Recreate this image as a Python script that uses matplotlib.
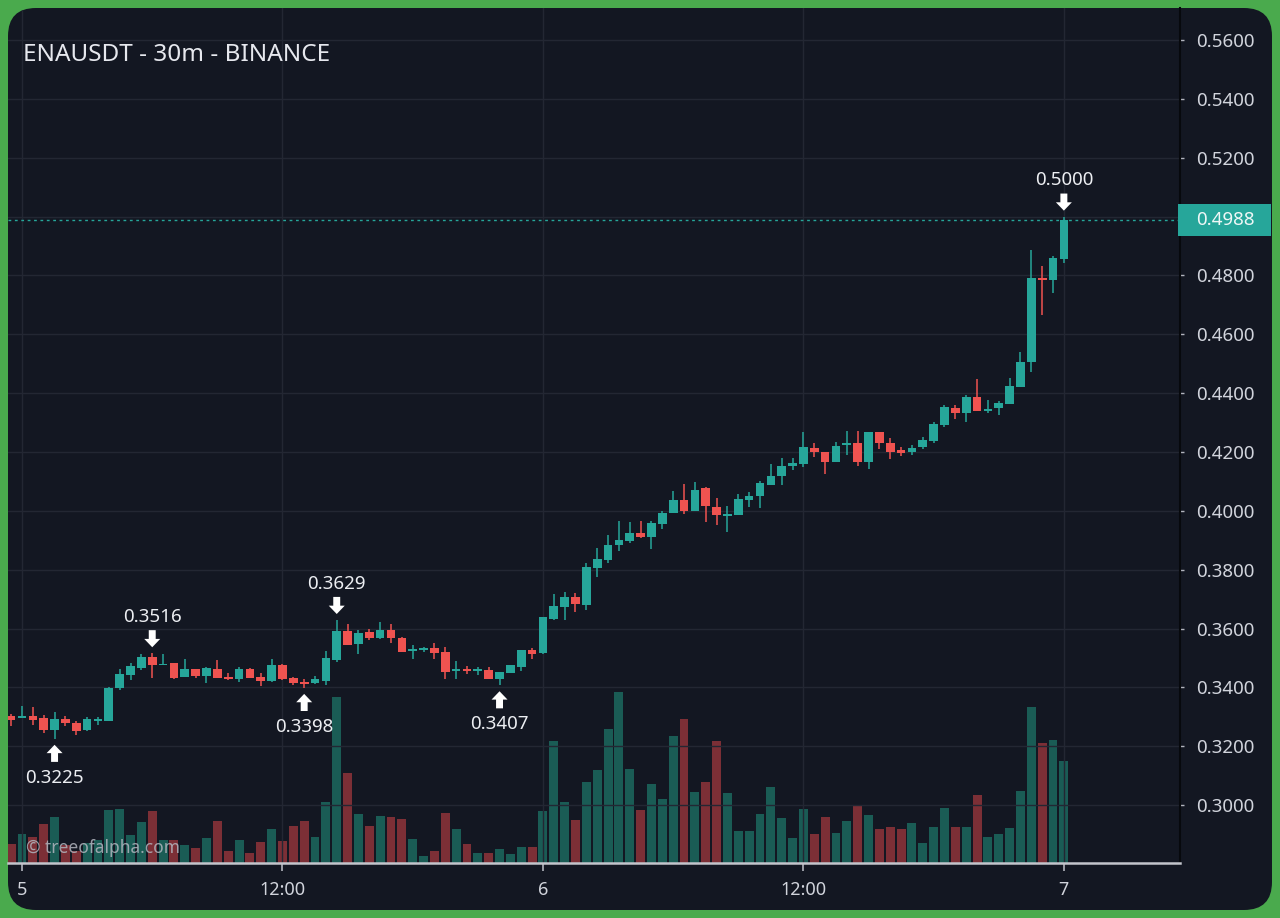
import numpy as np
import matplotlib
matplotlib.use('Agg')
import matplotlib.pyplot as plt
from matplotlib.patches import FancyBboxPatch, Rectangle
from matplotlib.transforms import IdentityTransform, offset_copy, blended_transform_factory
from matplotlib.ticker import FuncFormatter

plt.rcParams['font.family'] = ['Noto Sans', 'DejaVu Sans']

# 30m candles, index 0 = day 5 00:00 (first candle is 4th 23:30)
opens = [0.3303, 0.3296, 0.3303, 0.3296, 0.3255, 0.3292, 0.3279, 0.3255, 0.3286, 0.3286,
         0.3398, 0.3442, 0.3466, 0.3503, 0.3476, 0.3483, 0.3435, 0.3462, 0.3439, 0.3462,
         0.3435, 0.3428, 0.3462, 0.3435, 0.3422, 0.3476, 0.3432, 0.3418, 0.3415, 0.3422,
         0.3493, 0.3592, 0.3547, 0.3588, 0.3568, 0.3595, 0.3568, 0.3524, 0.3527, 0.3534,
         0.3520, 0.3456, 0.3459, 0.3456, 0.3459, 0.3428, 0.3449, 0.3469, 0.3527, 0.3517,
         0.3632, 0.3673, 0.3707, 0.3680, 0.3806, 0.3833, 0.3884, 0.3898, 0.3925, 0.3911,
         0.3955, 0.3993, 0.4037, 0.4000, 0.4078, 0.4013, 0.3983, 0.3986, 0.4037, 0.4051,
         0.4088, 0.4119, 0.4153, 0.4159, 0.4214, 0.4200, 0.4166, 0.4224, 0.4231, 0.4166,
         0.4268, 0.4231, 0.4207, 0.4200, 0.4217, 0.4238, 0.4292, 0.4350, 0.4333, 0.4387,
         0.4340, 0.4350, 0.4363, 0.4421, 0.4506, 0.4792, 0.4785, 0.4856]
highs = [0.3309, 0.3337, 0.3333, 0.3306, 0.3316, 0.3303, 0.3286, 0.3299, 0.3299, 0.3401,
         0.3462, 0.3483, 0.3513, 0.3516, 0.3512, 0.3483, 0.3496, 0.3462, 0.3469, 0.3493,
         0.3449, 0.3469, 0.3466, 0.3449, 0.3496, 0.3479, 0.3435, 0.3428, 0.3439, 0.3524,
         0.3629, 0.3615, 0.3595, 0.3598, 0.3622, 0.3615, 0.3571, 0.3544, 0.3537, 0.3551,
         0.3537, 0.3490, 0.3473, 0.3469, 0.3469, 0.3452, 0.3476, 0.3527, 0.3534, 0.3639,
         0.3717, 0.3724, 0.3721, 0.3823, 0.3874, 0.3918, 0.3966, 0.3962, 0.3966, 0.3966,
         0.4000, 0.4068, 0.4091, 0.4098, 0.4081, 0.4044, 0.4017, 0.4057, 0.4064, 0.4102,
         0.4159, 0.4180, 0.4180, 0.4268, 0.4231, 0.4200, 0.4234, 0.4272, 0.4272, 0.4268,
         0.4268, 0.4248, 0.4217, 0.4224, 0.4251, 0.4302, 0.4360, 0.4360, 0.4394, 0.4448,
         0.4377, 0.4374, 0.4452, 0.4540, 0.4887, 0.4833, 0.4867, 0.5000]
lows = [0.3269, 0.3296, 0.3272, 0.3245, 0.3225, 0.3269, 0.3238, 0.3252, 0.3272, 0.3286,
        0.3391, 0.3425, 0.3459, 0.3432, 0.3476, 0.3428, 0.3435, 0.3432, 0.3415, 0.3432,
        0.3425, 0.3418, 0.3432, 0.3405, 0.3418, 0.3425, 0.3408, 0.3398, 0.3411, 0.3408,
        0.3486, 0.3544, 0.3513, 0.3561, 0.3564, 0.3551, 0.3520, 0.3496, 0.3520, 0.3496,
        0.3428, 0.3428, 0.3445, 0.3442, 0.3428, 0.3407, 0.3449, 0.3456, 0.3496, 0.3513,
        0.3629, 0.3629, 0.3656, 0.3663, 0.3775, 0.3823, 0.3864, 0.3891, 0.3908, 0.3870,
        0.3938, 0.3993, 0.3989, 0.4000, 0.3962, 0.3952, 0.3928, 0.3986, 0.4013, 0.4010,
        0.4088, 0.4088, 0.4139, 0.4149, 0.4183, 0.4125, 0.4166, 0.4190, 0.4153, 0.4142,
        0.4210, 0.4176, 0.4187, 0.4190, 0.4210, 0.4231, 0.4285, 0.4312, 0.4302, 0.4340,
        0.4333, 0.4326, 0.4363, 0.4421, 0.4472, 0.4666, 0.4741, 0.4843]
closes = [0.3289, 0.3299, 0.3289, 0.3255, 0.3292, 0.3279, 0.3252, 0.3292, 0.3292, 0.3398,
          0.3445, 0.3473, 0.3503, 0.3476, 0.3479, 0.3432, 0.3462, 0.3439, 0.3466, 0.3432,
          0.3428, 0.3462, 0.3432, 0.3422, 0.3476, 0.3428, 0.3415, 0.3411, 0.3428, 0.3500,
          0.3592, 0.3544, 0.3585, 0.3568, 0.3595, 0.3568, 0.3520, 0.3530, 0.3534, 0.3517,
          0.3452, 0.3459, 0.3456, 0.3462, 0.3428, 0.3452, 0.3476, 0.3527, 0.3513, 0.3639,
          0.3677, 0.3707, 0.3683, 0.3809, 0.3836, 0.3884, 0.3901, 0.3925, 0.3911, 0.3959,
          0.3993, 0.4037, 0.4000, 0.4071, 0.4017, 0.3986, 0.3989, 0.4040, 0.4051, 0.4095,
          0.4119, 0.4153, 0.4163, 0.4217, 0.4200, 0.4166, 0.4221, 0.4231, 0.4166, 0.4268,
          0.4231, 0.4200, 0.4197, 0.4214, 0.4241, 0.4295, 0.4353, 0.4333, 0.4387, 0.4340,
          0.4346, 0.4367, 0.4425, 0.4506, 0.4792, 0.4785, 0.4860, 0.4988]
# volume, in units of 10k ENA
volume = [19, 29, 26, 39, 46, 18, 12, 20, 23, 53,
          54, 28, 41, 52, 23, 23, 18, 15, 25, 42,
          12, 23, 10, 21, 34, 22, 37, 42, 26, 61,
          166, 90, 49, 37, 47, 46, 44, 24, 7, 12,
          50, 34, 19, 10, 10, 14, 9, 16, 16, 52,
          122, 61, 43, 81, 93, 134, 171, 94, 53, 79,
          64, 127, 144, 71, 81, 122, 70, 32, 32, 49,
          76, 45, 25, 54, 29, 46, 30, 42, 57, 48,
          34, 36, 34, 40, 20, 36, 55, 36, 36, 68,
          26, 29, 35, 72, 156, 120, 123, 102]

tick_pos = [0, 24, 48, 72, 96]
tick_labels = ['5', '12:00', '6', '12:00', '7']
price_ticks = [0.30, 0.32, 0.34, 0.36, 0.38, 0.40, 0.42, 0.44, 0.46, 0.48, 0.50, 0.52, 0.54, 0.56]

# marked extremes: candle index and whether it is a high or low
mark_idx = [3, 12, 26, 29, 44, 96]
mark_kind = ['low', 'high', 'low', 'high', 'low', 'high']

BG = '#131722'
UP = '#26a69a'
DOWN = '#ef5350'
UP_VOL = '#1a5c55'
DOWN_VOL = '#7c2f36'
TEXT = '#d1d4dc'
GRID = '#232733'

W, H = 1280, 918
fig = plt.figure(figsize=(W / 100, H / 100), dpi=100)
fig.patch.set_facecolor('#4aaa4d')

panel = FancyBboxPatch((8, 8), W - 16, H - 16, boxstyle='round,pad=0,rounding_size=28',
                       transform=IdentityTransform(), facecolor=BG, edgecolor='none', zorder=-10)
fig.add_artist(panel)

rect = [8 / W, 55 / H, 1172 / W, 855 / H]
ax2 = fig.add_axes(rect)
ax = fig.add_axes(rect, sharex=ax2)
ax.set_zorder(2)
ax2.set_zorder(1)
ax.patch.set_visible(False)
ax2.patch.set_visible(False)

x = np.arange(-1, len(opens) - 1)
o = np.array(opens)
c = np.array(closes)
up = c >= o
cols = np.where(up, UP, DOWN)

# volume
ax2.bar(x, volume, width=0.82, color=np.where(up, UP_VOL, DOWN_VOL), linewidth=0)
ax2.set_ylim(0, max(volume) * 5.0)
ax2.axis('off')

# candles
ax.vlines(x, lows, highs, colors=cols, linewidth=1.1, zorder=3)
body = np.maximum(np.abs(c - o), 0.0005)
ax.bar(x, body, bottom=np.minimum(o, c), width=0.8, color=cols, linewidth=0, zorder=4)

ax.set_xlim(-1.29, 106.7)
ax.set_ylim(0.2803, 0.5709)

last = closes[-1]

ax.set_xticks(tick_pos)
ax.set_xticklabels(tick_labels)
for lbl in ax.get_xticklabels():
    if ':' not in lbl.get_text():
        lbl.set_fontweight('bold')
ax.yaxis.tick_right()
ax.set_yticks(price_ticks)


def price_fmt(v, pos):
    # the current-price tag hides the label it sits on
    if abs(v - last) < 0.006:
        return ''
    return f'{v:.4f}'


ax.yaxis.set_major_formatter(FuncFormatter(price_fmt))
ax.tick_params(axis='x', colors='#b2b5be', labelcolor=TEXT, length=6, width=1.2,
               pad=7, labelsize=13)
ax.tick_params(axis='y', colors='#b2b5be', labelcolor=TEXT, length=3, width=1,
               pad=8.5, labelsize=13.5)
ax.set_axisbelow(True)
ax.grid(True, color=GRID, linewidth=1)
for gl in ax.get_xgridlines() + ax.get_ygridlines():
    gl.set_clip_path(panel)

for s in ['top', 'left']:
    ax.spines[s].set_visible(False)
ax.spines['bottom'].set_color('#c3c5cc')
ax.spines['bottom'].set_linewidth(1.8)
ax.spines['right'].set_color('#07090d')
ax.spines['right'].set_linewidth(1.5)

# current price line and label
ax.axhline(last, color=UP, linewidth=1, linestyle=(0, (2, 2.6)), zorder=2)
bt = blended_transform_factory(ax.transAxes, ax.transData)
ax.add_patch(Rectangle((1.0 - 2 / 1172, last - 0.0054), 93 / 1172, 0.0108, transform=bt,
                       facecolor=UP, edgecolor='none', clip_on=False, zorder=10))
ax.text(1.0 + 16 / 1172, last, f'{last:.4f}', transform=bt, va='center', ha='left',
        color='#eef7f6', fontsize=13.5, clip_on=False, zorder=11)

# high / low markers
for i, kind in zip(mark_idx, mark_kind):
    k = i + 1
    sign = 1 if kind == 'high' else -1
    price = highs[k] if kind == 'high' else lows[k]
    tip = offset_copy(ax.transData, fig=fig, x=0, y=sign * 4.3, units='points')
    ax.annotate('', xy=(i, price), xycoords=tip, xytext=(0, sign * 12.3),
                textcoords='offset points',
                arrowprops=dict(facecolor='white', edgecolor='none', width=5,
                                headwidth=11.5, headlength=6, shrink=0), zorder=6)
    ax.annotate(f'{price:.4f}', xy=(i, price), xytext=(0, sign * (26 if sign > 0 else 28)),
                textcoords='offset points', ha='center', va='center',
                color='#eceef2', fontsize=13.5, zorder=6)

fig.text(23 / W, 1 - 55 / H, 'ENAUSDT - 30m - BINANCE', color='#e6e8ee', fontsize=17.5,
         va='center', ha='left')
fig.text(26 / W, 1 - 848 / H, '\u00a9 treeofalpha.com', color='#b2b5be', alpha=0.85,
         fontsize=12.5, va='center', ha='left', zorder=5)

fig.savefig('out.png', dpi=100, facecolor=fig.get_facecolor())
